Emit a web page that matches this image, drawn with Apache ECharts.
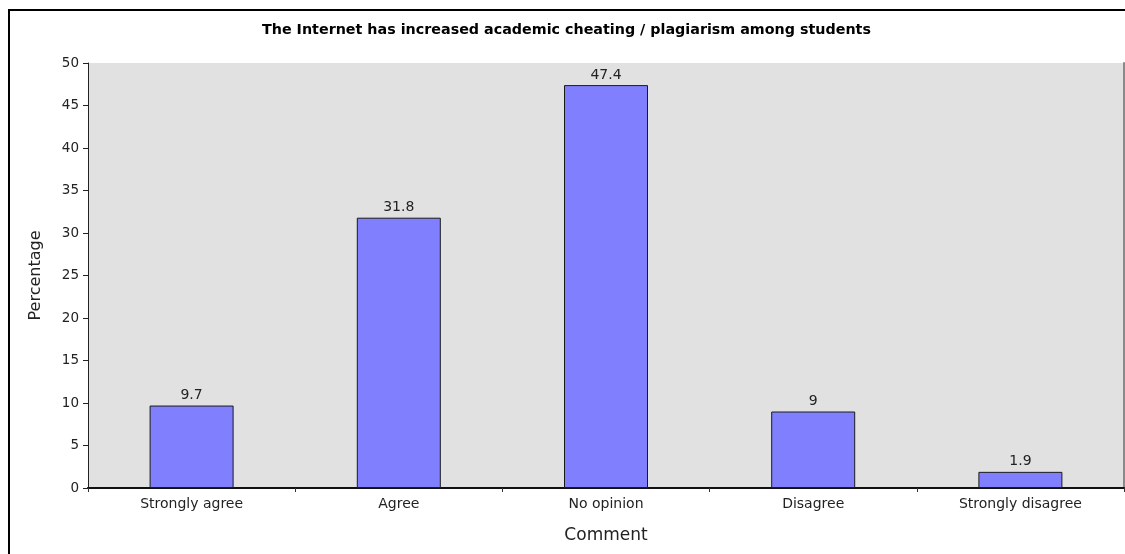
<!DOCTYPE html>
<html>
<head>
<meta charset="utf-8">
<script src="https://cdn.jsdelivr.net/npm/echarts@6/dist/echarts.min.js"></script>
<style>
  html, body { margin: 0; padding: 0; background: #fff; }
  #chart { width: 1125px; height: 554px; }
</style>
</head>
<body>
<div id="chart"></div>
<script>
// Survey responses
const chartTitle = 'The Internet has increased academic cheating / plagiarism among students';
const categories = ['Strongly agree', 'Agree', 'No opinion', 'Disagree', 'Strongly disagree'];
const percentages = [9.7, 31.8, 47.4, 9, 1.9];
const yTicks = { min: 0, max: 50, interval: 5 };

const FONT = '"DejaVu Sans", Verdana, sans-serif';

const chart = echarts.init(document.getElementById('chart'), null, { renderer: 'canvas' });

chart.setOption({
  animation: false,
  backgroundColor: '#ffffff',
  title: {
    text: chartTitle,
    left: 262,
    top: 23,
    padding: 0,
    textStyle: { fontFamily: FONT, fontSize: 14.3, fontWeight: 'bold', color: '#000' }
  },
  graphic: [{
    // outer frame round the whole chart
    type: 'rect',
    silent: true,
    z: 100,
    shape: { x: 9, y: 10, width: 1300, height: 800 },
    style: { fill: 'none', stroke: '#000', lineWidth: 2 }
  }],
  grid: {
    left: 88, right: 1, top: 63, bottom: 66,
    show: true,
    backgroundColor: '#e1e1e1',
    borderWidth: 0
  },
  xAxis: [{
    type: 'category',
    data: categories,
    position: 'bottom',
    boundaryGap: true,
    name: 'Comment',
    nameLocation: 'middle',
    nameGap: 39,
    nameTextStyle: { fontFamily: FONT, fontSize: 17, color: '#222' },
    axisLine: { show: true, lineStyle: { color: '#666', width: 2 } },
    axisTick: { show: true, alignWithLabel: false, length: 4, lineStyle: { color: '#333' } },
    axisLabel: { fontFamily: FONT, fontSize: 14, color: '#222', margin: 9 },
    splitLine: { show: false }
  }, {
    // top edge of the plot frame
    type: 'category',
    data: categories,
    position: 'top',
    axisLine: { show: true, lineStyle: { color: '#111', width: 2 } },
    axisTick: { show: false },
    axisLabel: { show: false },
    splitLine: { show: false }
  }],
  yAxis: [{
    type: 'value',
    min: yTicks.min,
    max: yTicks.max,
    interval: yTicks.interval,
    position: 'left',
    name: 'Percentage',
    nameLocation: 'middle',
    nameGap: 44,
    nameTextStyle: { fontFamily: FONT, fontSize: 16, color: '#222' },
    axisLine: { show: true, lineStyle: { color: '#222', width: 1 } },
    axisTick: { show: true, length: 5, lineStyle: { color: '#222' } },
    axisLabel: { fontFamily: FONT, fontSize: 13.5, color: '#222', margin: 9 },
    splitLine: { show: false }
  }, {
    // right edge of the plot frame
    type: 'value',
    min: yTicks.min,
    max: yTicks.max,
    interval: yTicks.interval,
    position: 'right',
    axisLine: { show: true, lineStyle: { color: '#8a8a8a', width: 2 } },
    axisTick: { show: false },
    axisLabel: { show: false },
    splitLine: { show: false }
  }],
  series: [{
    type: 'bar',
    data: percentages,
    xAxisIndex: 0,
    yAxisIndex: 0,
    barWidth: 84,
    itemStyle: { color: '#8080ff', borderColor: '#1a1a1a', borderWidth: 1 },
    label: {
      show: true,
      position: 'top',
      distance: 3,
      fontFamily: FONT,
      fontSize: 14,
      color: '#222'
    }
  }]
});
</script>
</body>
</html>
